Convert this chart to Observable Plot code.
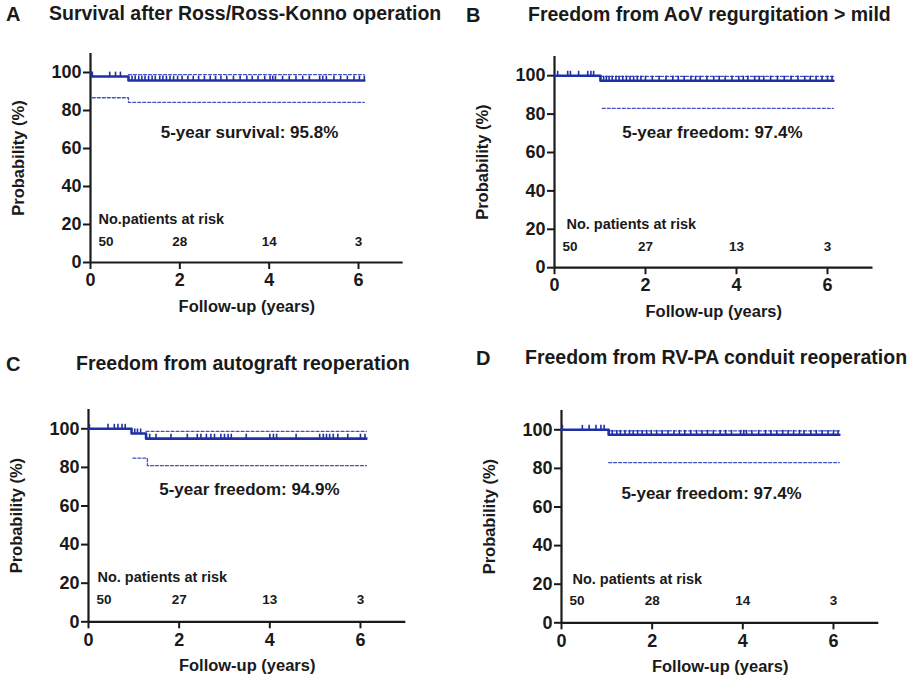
<!DOCTYPE html>
<html><head><meta charset="utf-8">
<script src="https://cdn.jsdelivr.net/npm/d3@7"></script>
<script src="https://cdn.jsdelivr.net/npm/@observablehq/plot@0.6"></script>
<style>
body{margin:0;background:#fff;}
#root{position:relative;width:917px;height:682px;overflow:hidden;font-family:"Liberation Sans",Arial,sans-serif;color:#1a1a1a;}
.ttl{position:absolute;font-weight:bold;font-size:19.5px;white-space:nowrap;line-height:1;}
.plot{position:absolute;}
</style></head><body><div id="root"></div>
<script>
// ---------- data ----------
const panelLetters = ["A", "B", "C", "D"];
const panelTitles = [
  "Survival after Ross/Ross-Konno operation",
  "Freedom from AoV regurgitation > mild",
  "Freedom from autograft reoperation",
  "Freedom from RV-PA conduit reoperation"
];
const xTicks = [0, 2, 4, 6];
const yTicks = [0, 20, 40, 60, 80, 100];
const xDomain = [0, 7];
const yDomain = [0, 110];
const xLabel = "Follow-up (years)";
const yLabel = "Probability (%)";
const annotations = ["5-year survival: 95.8%", "5-year freedom: 97.4%", "5-year freedom: 94.9%", "5-year freedom: 97.4%"];
const riskLabels = ["No.patients at risk", "No. patients at risk", "No. patients at risk", "No. patients at risk"];
const riskTimes = [0, 2, 4, 6];
const riskA = [50, 28, 14, 3];
const riskB = [50, 27, 13, 3];
const riskC = [50, 27, 13, 3];
const riskD = [50, 28, 14, 3];

// Kaplan-Meier estimates (time in years, probability %)
const kmA_t = [0, 0.03, 0.85, 6.13];  const kmA_s = [100, 97.9, 95.8, 95.8];
const upA_t = [0.85, 6.13];           const upA_s = [98.9, 98.9];
const loA_t = [0.04, 0.85, 6.13];     const loA_s = [86.7, 84.3, 84.3];
const censA = [0.43, 0.56, 0.67, 0.93, 1.0, 1.08, 1.15, 1.22, 1.3, 1.38, 1.45, 1.55, 1.62, 1.7, 1.78, 1.86, 1.95, 2.05, 2.18, 2.3, 2.42, 2.55, 2.68, 2.8, 2.92, 3.05, 3.2, 3.35, 3.5, 3.62, 3.75, 3.9, 4.02, 4.08, 4.14, 4.3, 4.45, 4.6, 4.75, 4.9, 5.13, 5.2, 5.28, 5.45, 5.6, 5.75, 5.9, 6.02, 6.13];

const kmB_t = [0, 1.01, 6.13];        const kmB_s = [100, 97.4, 97.4];
const upB_t = [1.01, 6.13];           const upB_s = [99.6, 99.6];
const loB_t = [1.05, 6.13];           const loB_s = [83.0, 83.0];
const censB = [0.07, 0.29, 0.35, 0.53, 0.73, 0.8, 0.86, 1.08, 1.14, 1.2, 1.27, 1.35, 1.42, 1.5, 1.58, 1.66, 1.74, 1.82, 1.9, 2.0, 2.15, 2.3, 2.45, 2.6, 2.72, 2.85, 3.0, 3.1, 3.2, 3.35, 3.5, 3.62, 3.75, 3.9, 4.05, 4.15, 4.25, 4.4, 4.5, 4.6, 4.75, 4.9, 5.05, 5.2, 5.35, 5.5, 5.62, 5.75, 5.88, 6.0, 6.1];

const kmC_t = [0, 0.95, 1.27, 6.13];  const kmC_s = [100, 97.6, 94.9, 94.9];
const upC_t = [1.27, 6.13];           const upC_s = [98.7, 98.7];
const loC_t = [0.98, 1.3, 6.13];      const loC_s = [84.8, 80.9, 80.9];
const censC = [0.02, 0.43, 0.57, 0.65, 0.74, 0.81, 1.02, 1.08, 1.15, 1.35, 1.49, 1.82, 2.18, 2.4, 2.48, 2.6, 2.7, 2.78, 2.92, 3.0, 3.08, 3.15, 3.48, 4.0, 4.08, 4.15, 4.58, 5.1, 5.18, 5.25, 5.32, 5.4, 5.5, 5.72, 6.0, 6.1];

const kmD_t = [0, 1.04, 6.13];        const kmD_s = [100, 97.4, 97.4];
const upD_t = [1.04, 6.13];           const upD_s = [99.4, 99.4];
const loD_t = [1.04, 6.13];           const loD_s = [83.0, 83.0];
const censD = [0.02, 0.46, 0.61, 0.76, 0.87, 0.94, 1.12, 1.22, 1.3, 1.4, 1.5, 1.58, 1.68, 1.78, 1.88, 1.98, 2.1, 2.22, 2.35, 2.48, 2.6, 2.72, 2.85, 2.98, 3.1, 3.22, 3.35, 3.5, 3.62, 3.75, 3.95, 4.02, 4.08, 4.2, 4.35, 4.5, 4.62, 4.75, 4.88, 5.0, 5.12, 5.25, 5.35, 5.5, 5.62, 5.75, 5.88, 6.0, 6.1];

// ---------- layout (pixel positions, styles) ----------
const layout = [
  {x0: 90,  x7: 402.7, y0: 262, y110: 53,    letterLeft: 6,   titleLeft: 49,  titleTop: 4,   ann: [3.56, 68.4], riskLab: [8, 22.6], riskY: 11},
  {x0: 554, x7: 872.5, y0: 267, y110: 55.8,  letterLeft: 466, titleLeft: 528, titleTop: 4.5, ann: [3.47, 70.5], riskLab: [12, 22.4], riskY: 10.9},
  {x0: 88,  x7: 405.3, y0: 621, y110: 408.7, letterLeft: 6,   titleLeft: 76,  titleTop: 354, ann: [3.55, 68.4], riskLab: [9, 22.8], riskY: 11.4},
  {x0: 561, x7: 878.3, y0: 622, y110: 409.7, letterLeft: 476, titleLeft: 525, titleTop: 348, ann: [3.31, 67.0], riskLab: [11, 22.3], riskY: 11.4}
];
const kmColor = "#1f2fa6";
const ciColor = "#4052c4";
const textColor = "#1a1a1a";

const series = [
  {km: [kmA_t, kmA_s], up: [upA_t, upA_s], lo: [loA_t, loA_s], cens: censA, risk: riskA},
  {km: [kmB_t, kmB_s], up: [upB_t, upB_s], lo: [loB_t, loB_s], cens: censB, risk: riskB},
  {km: [kmC_t, kmC_s], up: [upC_t, upC_s], lo: [loC_t, loC_s], cens: censC, risk: riskC},
  {km: [kmD_t, kmD_s], up: [upD_t, upD_s], lo: [loD_t, loD_s], cens: censD, risk: riskD}
];

const zip = ([ts, ss]) => ts.map((t, i) => ({t, s: ss[i]}));
const kmAt = ([ts, ss], t) => { let v = ss[0]; ts.forEach((x, i) => { if (x <= t) v = ss[i]; }); return v; };

const root = document.getElementById("root");
const mL = 90, mT = 10, mR = 12, mB = 60;

series.forEach((d, i) => {
  const L = layout[i];
  const letter = document.createElement("div");
  letter.className = "ttl"; letter.style.left = L.letterLeft + "px"; letter.style.top = L.titleTop + "px";
  letter.style.fontSize = "20px";
  letter.textContent = panelLetters[i];
  root.appendChild(letter);
  const title = document.createElement("div");
  title.className = "ttl"; title.style.left = L.titleLeft + "px"; title.style.top = L.titleTop + "px";
  title.textContent = panelTitles[i];
  root.appendChild(title);

  const cens = d.cens.map(t => ({t, s: kmAt(d.km, t)}));
  const riskData = riskTimes.map((t, j) => ({t, n: d.risk[j]}));

  const plot = Plot.plot({
    width: mL + (L.x7 - L.x0) + mR,
    height: mT + (L.y0 - L.y110) + mB,
    marginLeft: mL, marginTop: mT, marginRight: mR, marginBottom: mB,
    x: {domain: xDomain, axis: null},
    y: {domain: yDomain, axis: null},
    style: {fontFamily: '"Liberation Sans", Arial, sans-serif', color: textColor, background: "transparent", overflow: "visible"},
    marks: [
      Plot.axisY(yTicks, {tickSize: 7, tickPadding: 2, fontSize: 18, fontWeight: "bold", strokeWidth: 2, label: null}),
      Plot.axisX(xTicks, {tickSize: 7, tickPadding: 4, fontSize: 18, fontWeight: "bold", strokeWidth: 2, label: null}),
      Plot.ruleX([xDomain[0]], {strokeWidth: 2.2}),
      Plot.ruleY([yDomain[0]], {strokeWidth: 2.2}),
      Plot.text([yLabel], {frameAnchor: "left", dx: -72, rotate: -90, textAnchor: "middle", lineAnchor: "middle", fontSize: 16.5, fontWeight: "bold"}),
      Plot.text([xLabel], {frameAnchor: "bottom", dy: 44, textAnchor: "middle", lineAnchor: "middle", fontSize: 16.5, fontWeight: "bold"}),
      Plot.line(zip(d.lo), {x: "t", y: "s", curve: "step-after", stroke: ciColor, strokeWidth: 1.3, strokeDasharray: "3,2"}),
      Plot.line(zip(d.up), {x: "t", y: "s", curve: "step-after", stroke: ciColor, strokeWidth: 1.3, strokeDasharray: "3,2"}),
      Plot.line(zip(d.km), {x: "t", y: "s", curve: "step-after", stroke: kmColor, strokeWidth: 2.6}),
      Plot.ruleX(cens, {x: "t", y1: "s", y2: c => c.s + 2.3, stroke: kmColor, strokeWidth: 1.6}),
      Plot.text([annotations[i]], {x: () => L.ann[0], y: () => L.ann[1], fontSize: 17, fontWeight: "bold", textAnchor: "middle", lineAnchor: "middle"}),
      Plot.text([riskLabels[i]], {x: () => xDomain[0], y: () => L.riskLab[1], dx: L.riskLab[0], fontSize: 14.5, fontWeight: "bold", textAnchor: "start", lineAnchor: "middle"}),
      Plot.text(riskData.slice(0, 1), {x: "t", y: () => L.riskY, dx: 8, text: "n", fontSize: 13.5, fontWeight: "bold", textAnchor: "start", lineAnchor: "middle"}),
      Plot.text(riskData.slice(1), {x: "t", y: () => L.riskY, text: "n", fontSize: 13.5, fontWeight: "bold", textAnchor: "middle", lineAnchor: "middle"})
    ]
  });
  plot.classList.add("plot");
  plot.style.left = (L.x0 - mL) + "px";
  plot.style.top = (L.y110 - mT) + "px";
  root.appendChild(plot);
});
</script>
</body></html>
